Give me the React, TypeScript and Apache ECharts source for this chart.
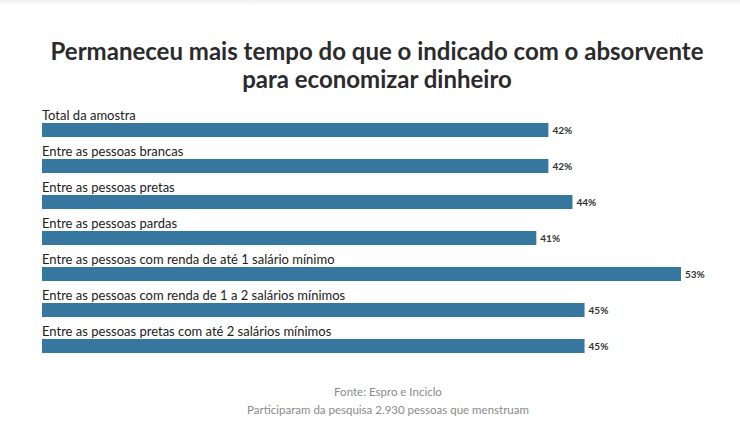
import { useEffect, useRef } from "react";
import * as echarts from "echarts";

const categories = [
    "Total da amostra",
    "Entre as pessoas brancas",
    "Entre as pessoas pretas",
    "Entre as pessoas pardas",
    "Entre as pessoas com renda de até 1 salário mínimo",
    "Entre as pessoas com renda de 1 a 2 salários mínimos",
    "Entre as pessoas pretas com até 2 salários mínimos",
];
const values = [42, 42, 44, 41, 53, 45, 45];

const titleLines = [
    "Permaneceu mais tempo do que o indicado com o absorvente",
    "para economizar dinheiro",
];
const sourceText = "Fonte: Espro e Inciclo";
const noteText = "Participaram da pesquisa 2.930 pessoas que menstruam";

const FONT = "Lato, 'Noto Sans', sans-serif";

export default function App() {
    const chartRef = useRef<HTMLDivElement>(null);

    useEffect(() => {
        document.body.style.margin = "0";
        if (!chartRef.current) return;
        const chart = echarts.init(chartRef.current, null, { renderer: "svg" });

        const centered = (text: string, x: number, y: number, size: number, color: string, bold: boolean) => ({
            type: "text",
            x,
            y,
            style: {
                text,
                align: "center",
                verticalAlign: "middle",
                fontFamily: FONT,
                fontSize: size,
                fontWeight: bold ? "bold" : "normal",
                fill: color,
            },
        });

        chart.setOption({
            animation: false,
            backgroundColor: "#ffffff",
            textStyle: { fontFamily: FONT },
            graphic: [
                // ombre légère en haut
                {
                    type: "rect",
                    shape: { x: 0, y: 0, width: 740, height: 6 },
                    style: {
                        fill: new echarts.graphic.LinearGradient(0, 0, 0, 1, [
                            { offset: 0, color: "rgba(0,0,0,0.06)" },
                            { offset: 1, color: "rgba(0,0,0,0)" },
                        ]),
                    },
                },
                centered(titleLines[0], 377, 50, 24, "#2b2b2b", true),
                centered(titleLines[1], 377, 78, 24, "#2b2b2b", true),
                centered(sourceText, 388, 391, 11.5, "#8a8a8a", false),
                centered(noteText, 388, 409, 11.5, "#8a8a8a", false),
            ],
            grid: {
                left: 42,
                width: 639,
                top: 112,
                height: 252,
                containLabel: false,
            },
            xAxis: {
                type: "value",
                min: 0,
                max: 53,
                show: false,
            },
            yAxis: {
                type: "category",
                inverse: true,
                data: categories,
                axisLine: { show: false },
                axisTick: { show: false },
                splitLine: { show: false },
                axisLabel: {
                    inside: true,
                    margin: 0,
                    align: "left",
                    verticalAlign: "bottom",
                    padding: [0, 0, 9, 0],
                    fontFamily: FONT,
                    fontSize: 13,
                    color: "#222222",
                },
            },
            series: [
                {
                    type: "bar",
                    data: values,
                    barWidth: 14,
                    itemStyle: { color: "#36779f" },
                    label: {
                        show: true,
                        position: "right",
                        distance: 4,
                        formatter: "{c}%",
                        fontFamily: FONT,
                        fontSize: 10,
                        fontWeight: "bold",
                        color: "#333333",
                    },
                },
            ],
        });

        return () => {
            chart.dispose();
        };
    }, []);

    return <div ref={chartRef} style={{ width: "740px", height: "442px" }} />;
}
